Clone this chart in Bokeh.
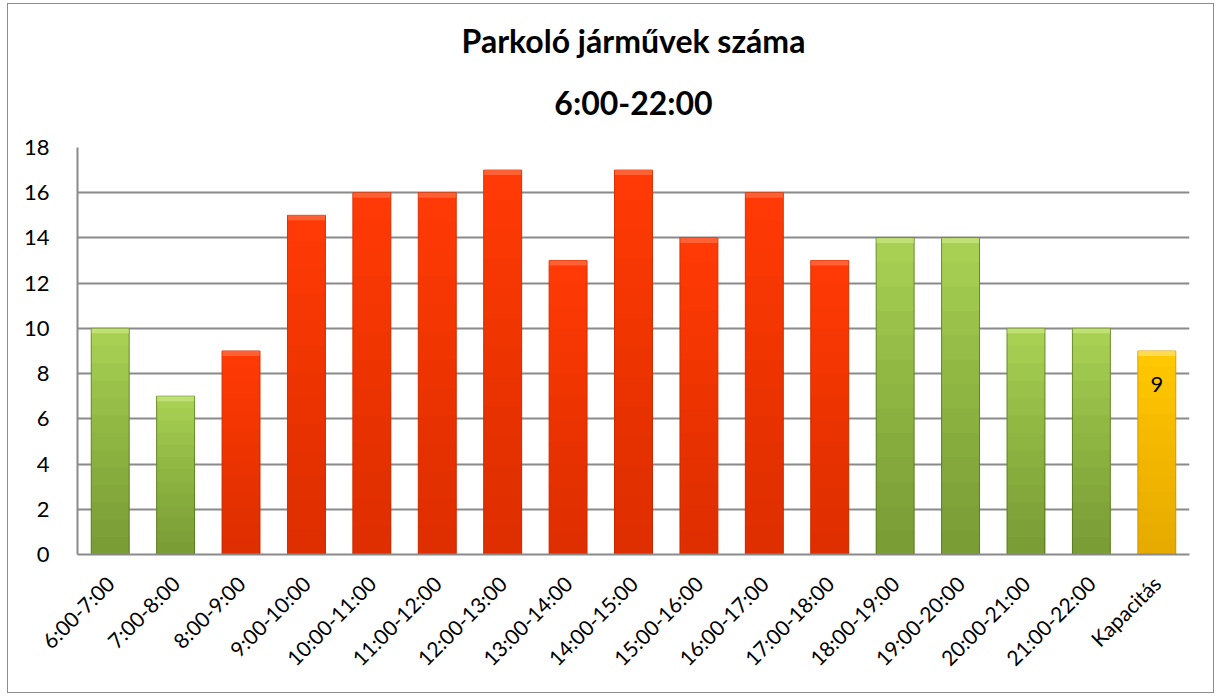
import math
from bokeh.plotting import figure
from bokeh.models import ColumnDataSource, Title, LabelSet, FactorRange, FixedTicker
from bokeh.core.properties import value
from bokeh.embed import file_html
from bokeh.resources import INLINE

categories = ["6:00-7:00", "7:00-8:00", "8:00-9:00", "9:00-10:00", "10:00-11:00",
              "11:00-12:00", "12:00-13:00", "13:00-14:00", "14:00-15:00", "15:00-16:00",
              "16:00-17:00", "17:00-18:00", "18:00-19:00", "19:00-20:00", "20:00-21:00",
              "21:00-22:00", "Kapacitás"]
values = [10, 7, 9, 15, 16, 16, 17, 13, 17, 14, 16, 13, 14, 14, 10, 10, 9]
kinds = ["g", "g", "r", "r", "r", "r", "r", "r", "r", "r", "r", "r", "g", "g", "g", "g", "y"]
y_ticks = [0, 2, 4, 6, 8, 10, 12, 14, 16, 18]
capacity_label = ["", "", "", "", "", "", "", "", "", "", "", "", "", "", "", "", "9"]
title_lines = ["Parkoló járművek száma", "6:00-22:00"]

base_col = {"g": "#a8d153", "r": "#ff3a06", "y": "#ffc800"}
dark_col = {"g": "#3f5812", "r": "#c42600", "y": "#c88a00"}
line_col = {"g": "#6a8a2c", "r": "#d93000", "y": "#d9a000"}
top_col = {"g": "#c4e47a", "r": "#ff6a40", "y": "#ffe066"}

FONT = "Lato"

p = figure(x_range=FactorRange(*categories, range_padding=0), y_range=(0, 18),
           width=1207, height=690, output_backend="svg", toolbar_location=None,
           min_border_left=69, min_border_right=26, min_border_bottom=140, min_border_top=40)
p.styles = {"border": "1px solid #8c8c8c", "margin-left": "7px", "margin-top": "3px"}
p.outline_line_color = None
p.background_fill_color = "white"

src = ColumnDataSource(dict(x=categories, top=values,
                            fill=[base_col[k] for k in kinds],
                            line=[line_col[k] for k in kinds],
                            lab=capacity_label))

W = 0.58
p.vbar(x="x", top="top", bottom=0, width=W, fill_color="fill", line_color="line",
       line_width=1, source=src)
# gradient darkening toward the bottom
N = 12
for k in range(1, N + 1):
    frac = 1 - k / (N + 1)
    s = ColumnDataSource(dict(x=categories, top=[v * frac for v in values],
                              dark=[dark_col[kk] for kk in kinds]))
    p.vbar(x="x", top="top", bottom=0, width=W, fill_color="dark", fill_alpha=0.045,
           line_color=None, source=s)
# light bevel cap at top
cap_src = ColumnDataSource(dict(x=categories, top=values, bottom=[v - 0.22 for v in values],
                                cap=[top_col[k] for k in kinds]))
p.vbar(x="x", top="top", bottom="bottom", width=W * 0.98, fill_color="cap",
       line_color=None, fill_alpha=0.8, source=cap_src)

labels = LabelSet(x="x", y="top", text="lab", source=src, y_offset=-26,
                  text_baseline="top", text_align="center", text_font_size="22px",
                  text_font=value(FONT), text_color="black")
p.add_layout(labels)

p.yaxis.ticker = FixedTicker(ticks=y_ticks)
p.yaxis.axis_line_color = "#8a8a8a"
p.yaxis.axis_line_width = 2
p.yaxis.major_tick_line_color = None
p.yaxis.minor_tick_line_color = None
p.yaxis.major_label_standoff = 22
p.yaxis.major_label_text_font = FONT
p.yaxis.major_label_text_font_size = "22px"
p.yaxis.major_label_text_color = "black"

p.xaxis.axis_line_color = "#8a8a8a"
p.xaxis.axis_line_width = 2
p.xaxis.major_tick_line_color = None
p.xaxis.major_label_orientation = math.pi / 4
p.xaxis.major_label_standoff = 19
p.xaxis.major_label_text_font = FONT
p.xaxis.major_label_text_font_size = "21px"
p.xaxis.major_label_text_color = "black"

p.xgrid.grid_line_color = None
p.ygrid.ticker = FixedTicker(ticks=y_ticks)
p.ygrid.grid_line_color = "#8a8a8a"
p.ygrid.grid_line_width = 2

p.title = None
p.add_layout(Title(text=title_lines[1], align="center", text_font=FONT, text_font_style="bold",
                   text_font_size="32px", text_color="black", standoff=52), "above")
p.add_layout(Title(text=title_lines[0], align="center", text_font=FONT,
                   text_font_style="bold", text_font_size="32px", text_color="black",
                   standoff=-10), "above")
p.add_layout(Title(text=" ", text_font_size="1px", standoff=16), "above")

open("out.html", "w").write(file_html(p, INLINE))
